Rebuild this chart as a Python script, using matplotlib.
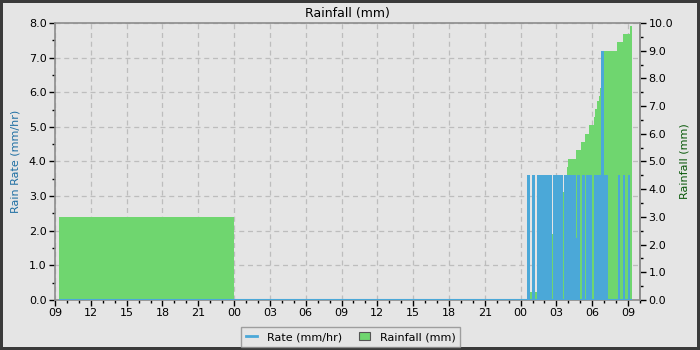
import matplotlib
matplotlib.use('Agg')
import matplotlib.pyplot as plt
import matplotlib.dates as mdates
from matplotlib.ticker import MultipleLocator, FormatStrFormatter
from matplotlib.lines import Line2D
from matplotlib.patches import Patch
import pandas as pd

# ---- data (day index, HH:MM) ----
rate_times = ["0 09:20", "2 00:32", "2 00:45", "2 00:55", "2 01:10", "2 01:20", "2 02:38",
              "2 02:45", "2 03:32", "2 03:40", "2 04:38", "2 04:43", "2 05:00", "2 05:10",
              "2 05:25", "2 05:30", "2 06:00", "2 06:10", "2 06:45", "2 07:00", "2 07:20",
              "2 08:10", "2 08:20", "2 08:35", "2 08:45", "2 09:00", "2 09:10", "2 09:21"]
rate_values = [0.0, 3.6, 0.0, 3.6, 0.0, 3.6, 0.0,
               3.6, 0.0, 3.6, 1.8, 3.6, 0.0, 3.6,
               0.0, 3.6, 0.0, 3.6, 7.2, 3.6, 0.0,
               3.6, 0.0, 3.6, 0.0, 3.6, 0.0, 0.0]

rain_times = ["0 09:20", "1 00:00", "2 00:32", "2 01:30", "2 01:45", "2 02:00", "2 02:10",
              "2 02:20", "2 02:30", "2 02:38", "2 02:50", "2 03:00", "2 03:10", "2 03:20",
              "2 03:32", "2 03:40", "2 03:50", "2 03:54", "2 03:59", "2 04:40", "2 05:05",
              "2 05:25", "2 05:45", "2 06:10", "2 06:16", "2 06:22", "2 06:32", "2 06:39",
              "2 06:45", "2 06:50", "2 08:05", "2 08:34", "2 09:08", "2 09:21"]
rain_values = [3.0, 0.0, 0.3, 0.6, 0.9, 1.2, 1.5,
               1.8, 2.1, 2.4, 2.7, 3.0, 3.3, 3.6,
               3.9, 4.2, 4.5, 4.8, 5.1, 5.4, 5.7,
               6.0, 6.3, 6.6, 6.9, 7.2, 7.35, 7.65,
               8.3, 9.0, 9.3, 9.6, 9.9, 9.9]

x_start = "0 09:00"
x_end = "2 10:00"

BASE = pd.Timestamp("2024-05-01")


def to_time(s):
    d, hm = s.split(" ")
    h, m = hm.split(":")
    return BASE + pd.Timedelta(days=int(d), hours=int(h), minutes=int(m))


RAIN_PER_RATE = 10.0 / 8.0  # right axis range / left axis range

BG = "#e5e5e5"
GREEN = "#6fd66f"
BLUE = "#4ba8d8"

fig = plt.figure(figsize=(7, 3.5), dpi=100, facecolor=BG)
fig.patch.set_edgecolor("#3a3a3a")
fig.patch.set_linewidth(4)

ax = fig.add_axes([55 / 700, 50 / 350, 585 / 700, 277 / 350])
ax.set_facecolor(BG)

rt = [to_time(s) for s in rate_times]
rn = [to_time(s) for s in rain_times]
rt_num = mdates.date2num(rt)
rn_num = mdates.date2num(rn)

# rainfall bars (in left-axis units via the secondary axis conversion)
for i in range(len(rain_values) - 1):
    v = rain_values[i] / RAIN_PER_RATE
    if v > 0:
        ax.bar(rn_num[i], v, width=rn_num[i + 1] - rn_num[i], align="edge",
               color=GREEN, linewidth=0, zorder=2)

# rate: zero baseline line + bars
ax.plot([rt_num[0], rt_num[-1]], [0, 0], color=BLUE, linewidth=1.5, zorder=3,
        solid_capstyle="butt")
for i in range(len(rate_values) - 1):
    v = rate_values[i]
    if v > 0:
        ax.bar(rt_num[i], v, width=rt_num[i + 1] - rt_num[i], align="edge",
               color=BLUE, linewidth=0, zorder=3)

ax.set_xlim(mdates.date2num(to_time(x_start)), mdates.date2num(to_time(x_end)))
ax.set_ylim(0, 8)
ax.xaxis_date()

ax.xaxis.set_major_locator(mdates.HourLocator(byhour=range(0, 24, 3)))
ax.xaxis.set_minor_locator(mdates.HourLocator())
ax.xaxis.set_major_formatter(mdates.DateFormatter("%H"))
ax.yaxis.set_major_locator(MultipleLocator(1.0))
ax.yaxis.set_minor_locator(MultipleLocator(0.5))
ax.yaxis.set_major_formatter(FormatStrFormatter("%.1f"))

ax.grid(True, which="major", linestyle=(0, (4, 3)), color="#bdbdbd", linewidth=0.9)
ax.set_axisbelow(True)

for sp in ax.spines.values():
    sp.set_color("#8c8c8c")
    sp.set_linewidth(1.2)

ax.tick_params(axis="both", which="major", direction="out", length=4, width=1,
               color="black", labelsize=8, pad=2)
ax.tick_params(axis="both", which="minor", direction="out", length=2.5, width=1,
               color="black")

sec = ax.secondary_yaxis("right", functions=(lambda y: y * RAIN_PER_RATE,
                                              lambda y: y / RAIN_PER_RATE))
sec.yaxis.set_major_locator(MultipleLocator(1.0))
sec.yaxis.set_minor_locator(MultipleLocator(0.5))
sec.yaxis.set_major_formatter(FormatStrFormatter("%.1f"))
sec.tick_params(axis="y", which="major", direction="out", length=4, width=1,
                color="black", labelsize=8, pad=2)
sec.tick_params(axis="y", which="minor", direction="out", length=2.5, width=1,
                color="black")
sec.spines["right"].set_color("#8c8c8c")
sec.spines["right"].set_linewidth(1.2)

ax.set_ylabel("Rain Rate (mm/hr)", color="#1f6fa3", fontsize=8, labelpad=6)
sec.set_ylabel("Rainfall (mm)", color="#0b5a0b", fontsize=8, labelpad=5)
ax.set_title("Rainfall (mm)", fontsize=9, pad=4)

handles = [Line2D([0], [0], color=BLUE, linewidth=2),
           Patch(facecolor=GREEN, edgecolor="#555555", linewidth=0.8)]
leg = fig.legend(handles, ["Rate (mm/hr)", "Rainfall (mm)"], loc="center",
                 bbox_to_anchor=(350.5 / 700, 13 / 350), ncol=2, fontsize=8,
                 frameon=True, fancybox=False, facecolor=BG, edgecolor="#8c8c8c",
                 handlelength=1.0, handleheight=0.7, columnspacing=1.5,
                 borderpad=0.45, handletextpad=0.9)
leg.get_frame().set_linewidth(1.0)

fig.savefig("out.png", dpi=100, facecolor=BG, edgecolor=fig.patch.get_edgecolor())
